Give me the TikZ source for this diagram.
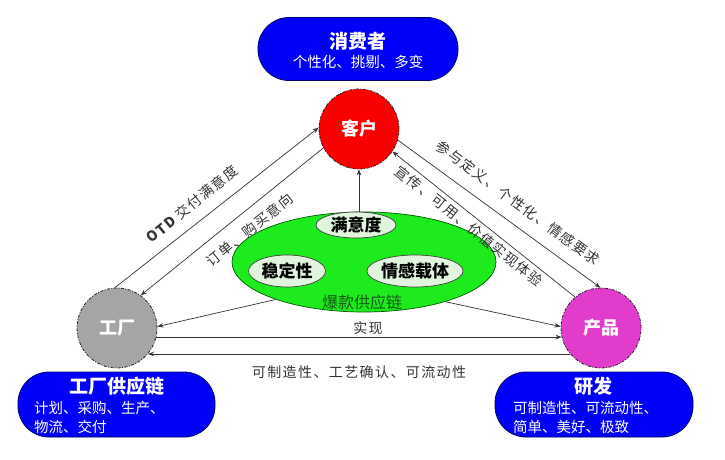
\documentclass[tikz,border=0pt]{standalone}
\usepackage{fontspec}
\setmainfont{Noto Sans CJK SC}
\newfontfamily\lblfont[LetterSpace=10]{Noto Sans CJK SC}
\usetikzlibrary{arrows.meta,shapes.geometric}
\definecolor{pblue}{RGB}{0,0,250}
\definecolor{pred}{RGB}{250,0,0}
\definecolor{pgray}{RGB}{165,165,165}
\definecolor{pmag}{RGB}{226,60,205}
\definecolor{pgreen}{RGB}{30,235,30}
\definecolor{plight}{RGB}{225,245,222}
\definecolor{pdkgreen}{RGB}{20,90,20}
\begin{document}
\begin{tikzpicture}[x=1pt,y=-1pt,
  arr/.style={draw=black!80, line width=0.7pt, -{Stealth[length=6pt,width=4.5pt]}},
  hub/.style={circle, minimum size=80pt, inner sep=0pt, draw=black!85, line width=0.8pt,
    dash pattern=on 3pt off 1.5pt on 1pt off 1.5pt, text=white,
    font=\fontsize{18}{18}\selectfont\bfseries},
  pill/.style={rectangle, rounded corners=31pt, fill=pblue, draw=black!60!blue,
    line width=0.8pt, minimum height=63pt, inner sep=0pt},
  ptitle/.style={text=white, font=\fontsize{19}{19}\selectfont\bfseries, inner sep=0pt},
  psub/.style={text=white, font=\fontsize{14.5}{14.5}\selectfont, inner sep=0pt},
  inner/.style={ellipse, fill=plight, draw=black!75, line width=0.7pt, inner sep=0pt,
    font=\fontsize{17}{17}\selectfont\bfseries},
  lbl/.style={text=black!80, font=\fontsize{14}{14}\selectfont\lblfont, inner sep=0pt}
]
\useasboundingbox (0,0) rectangle (725,460);

% top box
\node[pill, minimum width=200pt] (xfz) at (358,49) {};
\node[ptitle] (xfzt) at (358,41) {消费者};
\node[psub] (xfzs) at (358,62) {个性化、挑剔、多变};

% bottom-left box
\node[pill, minimum width=197pt, minimum height=65pt] (gys) at (116.5,404.5) {};
\node[ptitle] (gyst) at (117,386) {工厂供应链};
\node[psub, anchor=west] (gys1) at (34,408) {计划、采购、生产、};
\node[psub, anchor=west] (gys2) at (34,427) {物流、交付};

% bottom-right box
\node[pill, minimum width=198pt, minimum height=65pt] (yf) at (594,404.5) {};
\node[ptitle] (yft) at (593,386) {研发};
\node[psub, anchor=west] (yf1) at (513,408) {可制造性、可流动性、};
\node[psub, anchor=west] (yf2) at (513,427) {简单、美好、极致};

% hubs
\node[hub, fill=pred] (kh) at (359,129) {客户};
\node[hub, fill=pgray] (gc) at (117,328) {工厂};
\node[hub, fill=pmag] (cp) at (601,328) {产品};

% green ellipse
\node[ellipse, fill=pgreen, draw=green!35!black, line width=0.7pt,
  minimum width=264pt, minimum height=100pt, inner sep=0pt] (ge) at (364,262) {};
\node[inner, minimum width=80pt, minimum height=26pt] (myd) at (356,225) {满意度};
\node[inner, minimum width=77pt, minimum height=32pt] (wdx) at (287,271) {稳定性};
\node[inner, minimum width=95pt, minimum height=32pt] (qgzt) at (415,271) {情感载体};
\node[text=pdkgreen, font=\fontsize{16}{16}\selectfont, inner sep=0pt] (bk) at (362,302) {爆款供应链};

% connectors
\draw[arr] (gc.93) -- (kh.178);
\draw[arr] (kh.208) -- (gc.54);
\draw[arr] (kh.344) -- (cp.91);
\draw[arr] (cp.130) -- (kh.326);
\draw[arr] (ge.north -| kh.south) -- (kh.south);
\draw[arr] (ge.203) -- (gc.2);
\draw[arr] (ge.334) -- (cp.178);
\draw[arr] (gc.347) -- (cp.193);
\draw[arr] (cp.220) -- (gc.320);

% labels
\node[lbl, rotate=39.3, font=\fontsize{14}{14}\selectfont\lblfont\bfseries] (l1) at (192,204) {OTD \mdseries 交付满意度};
\node[lbl, rotate=38.7] (l2) at (250,230) {订单、购买意向};
\node[lbl, rotate=-36.2] (l3) at (518,203) {参与定义、个性化、情感要求};
\node[lbl, rotate=-38.5] (l4) at (469,226) {宣传、可用、价值实现体验};
\node[lbl] (l5) at (368,328) {实现};
\node[lbl] (l6) at (359,372) {可制造性、工艺确认、可流动性};
\end{tikzpicture}
\end{document}
